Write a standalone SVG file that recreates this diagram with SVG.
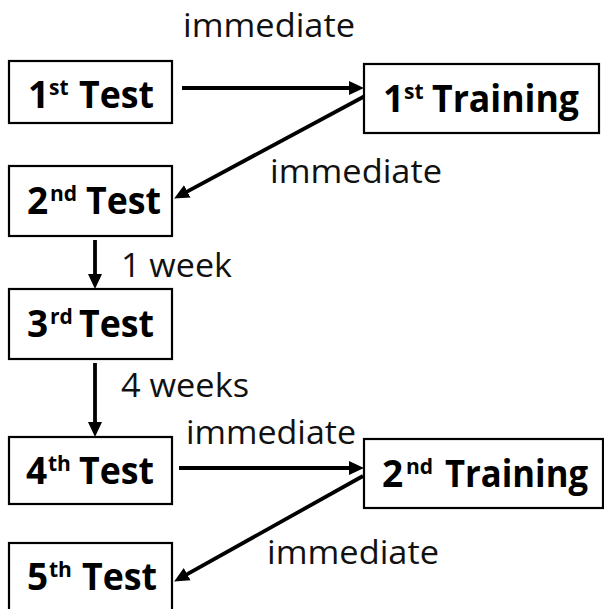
<svg xmlns="http://www.w3.org/2000/svg" width="604" height="609" viewBox="0 0 604 609">
<style>
.box{fill:#fff;stroke:#000;stroke-width:2.2}
.b{font-family:"Open Sans","Noto Sans",sans-serif;font-weight:bold;font-size:37px;fill:#000}
.s{font-size:21px}
.lbl{font-family:"Open Sans","Noto Sans",sans-serif;font-size:32px;fill:#111}
.c{fill:none;stroke:#000;stroke-width:3.8}
</style>
<defs>
<marker id="ah" markerUnits="userSpaceOnUse" markerWidth="18" markerHeight="16" viewBox="0 -8 18 16" refX="4" refY="0" orient="auto">
<path d="M0,-7 L15,0 L0,7 Z" fill="#000"/>
</marker>
</defs>
<rect width="604" height="609" fill="#fff"/>
<g id="connectors">
<line class="c" x1="182" y1="88" x2="353" y2="88" marker-end="url(#ah)"/>
<line class="c" x1="365" y1="96" x2="183.8" y2="193.3" marker-end="url(#ah)"/>
<line class="c" x1="95" y1="240" x2="95" y2="278" marker-end="url(#ah)"/>
<line class="c" x1="95" y1="363" x2="95" y2="426" marker-end="url(#ah)"/>
<line class="c" x1="179" y1="468" x2="353" y2="468" marker-end="url(#ah)"/>
<line class="c" x1="363" y1="476" x2="183.7" y2="576.1" marker-end="url(#ah)"/>
</g>
<g id="labels">
<text class="lbl" x="183" y="37" textLength="172" lengthAdjust="spacingAndGlyphs">immediate</text>
<text class="lbl" x="270" y="183" textLength="172" lengthAdjust="spacingAndGlyphs">immediate</text>
<text class="lbl" x="121" y="277" textLength="111" lengthAdjust="spacingAndGlyphs">1 week</text>
<text class="lbl" x="121" y="397" textLength="128" lengthAdjust="spacingAndGlyphs">4 weeks</text>
<text class="lbl" x="186" y="444" textLength="170" lengthAdjust="spacingAndGlyphs">immediate</text>
<text class="lbl" x="267" y="564" textLength="172" lengthAdjust="spacingAndGlyphs">immediate</text>
</g>
<g id="test1">
<rect class="box" x="9" y="61" width="163" height="62"/>
<text class="b" y="108"><tspan x="28">1</tspan><tspan class="s" x="49" dy="-13">st</tspan><tspan x="79" dy="13" textLength="75" lengthAdjust="spacingAndGlyphs">Test</tspan></text>
</g>
<g id="training1">
<rect class="box" x="364" y="64" width="235" height="69"/>
<text class="b" y="112"><tspan x="383">1</tspan><tspan class="s" x="404" dy="-13">st</tspan><tspan x="432" dy="13" textLength="147" lengthAdjust="spacingAndGlyphs">Training</tspan></text>
</g>
<g id="test2">
<rect class="box" x="9" y="166" width="163" height="70"/>
<text class="b" y="214"><tspan x="27">2</tspan><tspan class="s" x="50" dy="-13">nd</tspan><tspan x="86" dy="13" textLength="75" lengthAdjust="spacingAndGlyphs">Test</tspan></text>
</g>
<g id="test3">
<rect class="box" x="9" y="289" width="163" height="70"/>
<text class="b" y="337"><tspan x="27">3</tspan><tspan class="s" x="50" dy="-13">rd</tspan><tspan x="79" dy="13" textLength="75" lengthAdjust="spacingAndGlyphs">Test</tspan></text>
</g>
<g id="test4">
<rect class="box" x="9" y="437" width="163" height="67"/>
<text class="b" y="484"><tspan x="26">4</tspan><tspan class="s" x="48" dy="-13">th</tspan><tspan x="79" dy="13" textLength="75" lengthAdjust="spacingAndGlyphs">Test</tspan></text>
</g>
<g id="training2">
<rect class="box" x="364" y="439" width="239" height="69"/>
<text class="b" y="487"><tspan x="382">2</tspan><tspan class="s" x="406" dy="-13">nd</tspan><tspan x="445" dy="13" textLength="143" lengthAdjust="spacingAndGlyphs">Training</tspan></text>
</g>
<g id="test5">
<rect class="box" x="9" y="543" width="163" height="80"/>
<text class="b" y="590"><tspan x="27">5</tspan><tspan class="s" x="49" dy="-13">th</tspan><tspan x="82" dy="13" textLength="75" lengthAdjust="spacingAndGlyphs">Test</tspan></text>
</g>
</svg>
